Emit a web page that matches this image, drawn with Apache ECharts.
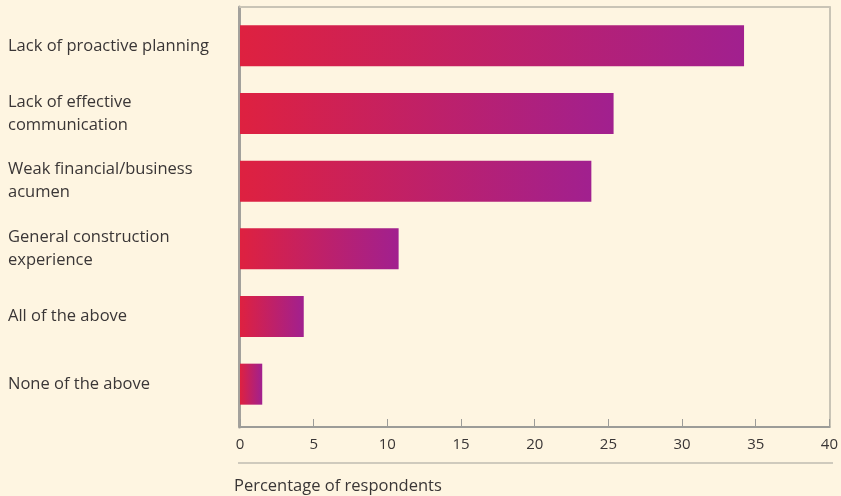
<!DOCTYPE html>
<html>
<head>
<meta charset="utf-8">
<script src="https://cdn.jsdelivr.net/npm/echarts@6/dist/echarts.min.js"></script>
<style>
html,body{margin:0;padding:0;background:#fef5e1;}
#c{width:841px;height:496px;}
</style>
</head>
<body>
<div id="c"></div>
<script>
const categories = [
  "Lack of proactive planning",
  "Lack of effective\ncommunication",
  "Weak financial/business\nacumen",
  "General construction\nexperience",
  "All of the above",
  "None of the above"
];
const values = [34.0, 25.2, 23.7, 10.7, 4.3, 1.5];
const xTicks = [0, 5, 10, 15, 20, 25, 30, 35, 40];
const axisTitle = "Percentage of respondents";

const FONT = "'Open Sans', Lato, sans-serif";
const chart = echarts.init(document.getElementById('c'));
const grad = new echarts.graphic.LinearGradient(0, 0, 1, 0, [
  {offset: 0, color: '#de2140'},
  {offset: 1, color: '#a1208f'}
]);
chart.setOption({
  backgroundColor: '#fef5e1',
  animation: false,
  title: {
    text: axisTitle, left: 229, top: 473,
    textStyle: {fontFamily: FONT, fontSize: 16.5, fontWeight: 'normal', color: '#3a3636'}
  },
  grid: [
    {left: 240, right: 8, top: 7, bottom: 69},
    {left: 240, right: 8, top: 12, bottom: 78}
  ],
  xAxis: [
    {
      gridIndex: 0, type: 'value', min: xTicks[0], max: xTicks[xTicks.length - 1], interval: 5,
      axisLine: {show: true, onZero: false, lineStyle: {color: '#9c9c98', width: 2}},
      axisTick: {show: true, inside: true, length: 8, lineStyle: {color: '#9c9c98', width: 1}},
      axisLabel: {margin: 10, fontFamily: FONT, fontSize: 15, color: '#3a3636'},
      splitLine: {show: false}
    },
    {
      gridIndex: 0, type: 'value', position: 'top', min: 0, max: 40,
      axisLine: {show: true, onZero: false, lineStyle: {color: '#c9c4b6', width: 2}},
      axisTick: {show: false}, axisLabel: {show: false}, splitLine: {show: false}
    },
    {
      gridIndex: 1, type: 'value', min: 0, max: 40, show: false
    }
  ],
  yAxis: [
    {
      gridIndex: 0, type: 'value', min: 0, max: 1,
      offset: 1,
      axisLine: {show: true, onZero: false, lineStyle: {color: '#a3a19c', width: 3}},
      axisTick: {show: false}, axisLabel: {show: false}, splitLine: {show: false}
    },
    {
      gridIndex: 0, type: 'value', position: 'right', min: 0, max: 1,
      axisLine: {show: true, onZero: false, lineStyle: {color: '#c9c4b6', width: 2}},
      axisTick: {show: false}, axisLabel: {show: false}, splitLine: {show: false}
    },
    {
      gridIndex: 1, type: 'category', data: categories, inverse: true,
      axisLine: {show: false}, axisTick: {show: false},
      axisLabel: {
        margin: 232, align: 'left', fontFamily: FONT, fontSize: 16.5,
        color: '#3a3636', lineHeight: 23
      }
    }
  ],
  graphic: [
    {type: 'line', shape: {x1: 238, y1: 463, x2: 833, y2: 463},
     style: {stroke: '#cfcabd', lineWidth: 2}}
  ],
  series: [{
    type: 'bar', xAxisIndex: 2, yAxisIndex: 2, data: values,
    barWidth: 41,
    itemStyle: {color: grad}
  }]
});
</script>
</body>
</html>
